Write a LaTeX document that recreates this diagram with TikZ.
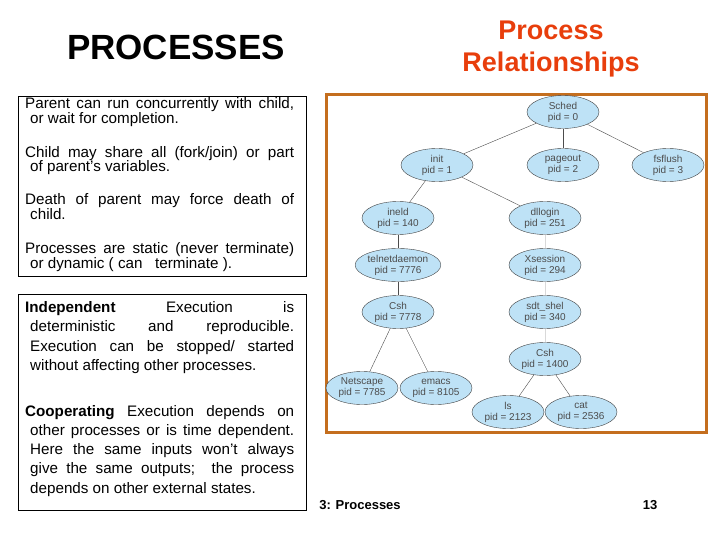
\documentclass[tikz,border=0pt]{standalone}
\usepackage{fontspec}
\setmainfont{Liberation Sans}
\usetikzlibrary{shapes.geometric,positioning}
\definecolor{procblue}{RGB}{190,226,246}
\definecolor{framebrown}{RGB}{196,110,30}
\definecolor{titlered}{RGB}{232,62,12}
\tikzset{proc/.style={draw=black!75,fill=procblue,ellipse,minimum width=72pt,minimum height=33pt,inner sep=0pt,align=center,font=\fontsize{10}{11}\selectfont,text=black!70},
  link/.style={draw=black!70,thin},
  faint/.style={draw=black!15,thin},
  txt/.style={anchor=base west,inner sep=0pt,font=\fontsize{15.2}{16}\selectfont}}
\newcommand{\jline}[2]{\makebox[#1pt][s]{#2}}
\begin{document}
\begin{tikzpicture}[x=1pt,y=-1pt]
    \useasboundingbox (0,0) rectangle (720,540);
    % titles
    \node[font=\fontsize{35}{38}\selectfont\bfseries] (title) at (176,47) {PROCESSES};
    \node[text=titlered,align=center,font=\fontsize{27}{32}\selectfont\bfseries] (subtitle) at (551,49) {Process\\ Relationships};

    % left boxes
    \draw (18,96) rectangle (306,276);
    \draw (18,294) rectangle (306,510);

    % box 1
    \node[txt] (p1) at (25,109) {\jline{269}{Parent can run concurrently with child,}};
    \node[txt] (p2) at (30,124) {or wait for completion.};
    \node[txt] (p3) at (25,158) {\jline{269}{Child may share all (fork/join) or part}};
    \node[txt] (p4) at (30,172) {of parent's variables.};
    \node[txt] (p5) at (25,205) {\jline{269}{Death of parent may force death of}};
    \node[txt] (p6) at (30,219) {child.};
    \node[txt] (p7) at (25,253) {\jline{269}{Processes are static (never terminate)}};
    \node[txt] (p8) at (30,268) {or dynamic ( can\ \ \ terminate ).};

    % box 2
    \node[txt] (q1) at (25,312) {\jline{269}{\textbf{Independent} Execution is}};
    \node[txt] (q2) at (30,331) {\jline{264}{deterministic and reproducible.}};
    \node[txt] (q3) at (30,351) {\jline{264}{Execution can be stopped/ started}};
    \node[txt] (q4) at (30,370) {without affecting other processes.};
    \node[txt] (q5) at (25,416) {\jline{269}{\textbf{Cooperating} Execution depends on}};
    \node[txt] (q6) at (30,435) {\jline{264}{other processes or is time dependent.}};
    \node[txt] (q7) at (30,454) {\jline{264}{Here the same inputs won't always}};
    \node[txt] (q8) at (30,473) {\jline{264}{give the same outputs;\ \ the process}};
    \node[txt] (q9) at (30,493) {depends on other external states.};

    % tree frame
    \draw[framebrown,line width=3pt] (326,95) rectangle (706,432);

    % processes
    \node[proc] (sched)  at (563,112) {Sched\\pid = 0};
    \node[proc] (init)   at (437,165) {init\\pid = 1};
    \node[proc] (pageout) at (563,165) {pageout\\pid = 2};
    \node[proc] (fsflush) at (668,165) {fsflush\\pid = 3};
    \node[proc] (ineld)  at (398,218) {ineld\\pid = 140};
    \node[proc] (dllogin) at (545,218) {dllogin\\pid = 251};
    \node[proc] (telnet) at (398,265) {telnetdaemon\\pid = 7776};
    \node[proc] (xsess)  at (545,265) {Xsession\\pid = 294};
    \node[proc] (csha)   at (398,312) {Csh\\pid = 7778};
    \node[proc] (sdt)    at (545,312) {sdt\_shel\\pid = 340};
    \node[proc] (cshb)   at (545,359) {Csh\\pid = 1400};
    \node[proc] (netsc)  at (362,388) {Netscape\\pid = 7785};
    \node[proc] (emacs)  at (436,388) {emacs\\pid = 8105};
    \node[proc] (ls)     at (508,412) {ls\\pid = 2123};
    \node[proc] (cat)    at (581,412) {cat\\pid = 2536};

    % links
    \draw[link] (sched) -- (init);
    \draw[link] (sched) -- (pageout);
    \draw[link] (sched) -- (fsflush);
    \draw[link] (init) -- (ineld);
    \draw[link] (init) -- (dllogin);
    \draw[link] (ineld) -- (telnet);
    \draw[link] (telnet) -- (csha);
    \draw[link] (csha) -- (netsc);
    \draw[link] (csha) -- (emacs);
    \draw[faint] (dllogin) -- (xsess);
    \draw[faint] (xsess) -- (sdt);
    \draw[faint] (sdt) -- (cshb);
    \draw[link] (cshb) -- (ls);
    \draw[link] (cshb) -- (cat);

    % footer
    \node[font=\fontsize{13}{14}\selectfont\bfseries] (footl) at (360,505) {3: Processes};
    \node[font=\fontsize{13}{14}\selectfont\bfseries] (footr) at (650,505) {13};
\end{tikzpicture}
\end{document}
